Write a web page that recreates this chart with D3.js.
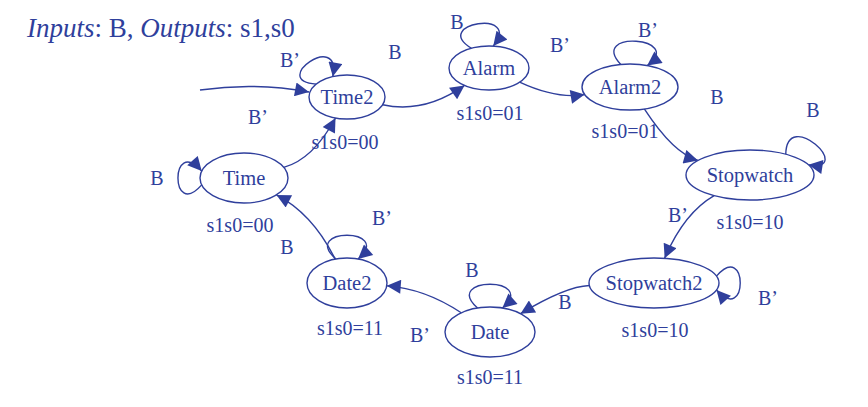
<!DOCTYPE html>
<html><head><meta charset="utf-8">
<script src="https://cdn.jsdelivr.net/npm/d3@7"></script>
<style>body{margin:0;background:#fff}</style>
</head><body>
<svg id="c" width="868" height="407"></svg>
<script>
// states, their outputs, and where they sit
var states = ['Time2', 'Alarm', 'Alarm2', 'Stopwatch', 'Stopwatch2', 'Date', 'Date2', 'Time'];
var outputs = ['00', '01', '01', '10', '10', '11', '11', '00'];
var layout = [
    {x: 347, y: 97, rx: 38, ry: 22},
    {x: 489, y: 68, rx: 40, ry: 22},
    {x: 630, y: 87, rx: 48, ry: 23},
    {x: 750, y: 175, rx: 64, ry: 25},
    {x: 654, y: 283, rx: 65, ry: 25},
    {x: 490, y: 332, rx: 45, ry: 25},
    {x: 347, y: 283, rx: 40, ry: 25},
    {x: 244, y: 178, rx: 44, ry: 25}
];
var outPos = [[345, 142], [490, 113], [625, 131], [750, 222], [655, 330], [490, 377], [350, 328], [240, 225]];

// transitions: from, to, input
var edgeFrom = [0, 1, 2, 3, 4, 5, 6, 7];
var edgeTo = [1, 2, 3, 4, 5, 6, 7, 0];
var edgeInput = ['B', 'B\u2019', 'B', 'B\u2019', 'B', 'B\u2019', 'B', 'B\u2019'];
var edgeBend = [-32, -22, -28, -24, -22, -20, -24, -28];
var edgeLabel = [[395, 52], [560, 45], [717, 97], [678, 215], [565, 302], [420, 335], [287, 247], [258, 117]];

// self loops: state, input, angle (deg), label position
var loopState = [0, 1, 2, 3, 4, 5, 6, 7];
var loopInput = ['B\u2019', 'B', 'B\u2019', 'B', 'B\u2019', 'B', 'B\u2019', 'B'];
var loopAngle = [-128, -100, -85, -40, 0, -90, -90, 180];
var loopLabel = [[290, 60], [457, 22], [648, 30], [813, 110], [768, 298], [472, 270], [382, 218], [157, 178]];

var blue = '#2f3f9c';
var svg = d3.select('#c');

svg.append('defs').append('marker')
    .attr('id', 'ah')
    .attr('viewBox', '0 0 10 10')
    .attr('refX', 10).attr('refY', 5)
    .attr('markerWidth', 16).attr('markerHeight', 14)
    .attr('markerUnits', 'userSpaceOnUse')
    .attr('orient', 'auto')
  .append('path')
    .attr('d', 'M0,0 L10,5 L0,10 Z')
    .attr('fill', blue);

function boundary (s, tx, ty) {
    var a = Math.atan2((ty - s.y) / s.ry, (tx - s.x) / s.rx);
    return [s.x + s.rx * Math.cos(a), s.y + s.ry * Math.sin(a)];
}

var edges = edgeFrom.map(function (f, i) {
    var a = layout[f], b = layout[edgeTo[i]];
    var mx = (a.x + b.x) / 2, my = (a.y + b.y) / 2;
    var dx = b.x - a.x, dy = b.y - a.y, len = Math.sqrt(dx * dx + dy * dy);
    var cx = mx + edgeBend[i] * dy / len, cy = my - edgeBend[i] * dx / len;
    var p0 = boundary(a, cx, cy), p1 = boundary(b, cx, cy);
    var p = d3.path();
    p.moveTo(p0[0], p0[1]);
    p.quadraticCurveTo(cx, cy, p1[0], p1[1]);
    return p.toString();
});

svg.selectAll('.edge')
    .data(edges)
  .enter().append('path')
    .attr('class', 'edge')
    .attr('d', function (d) { return d; })
    .attr('fill', 'none')
    .attr('stroke', blue)
    .attr('stroke-width', 1.4)
    .attr('marker-end', 'url(#ah)');

var loops = loopState.map(function (s, i) {
    var st = layout[s], a = loopAngle[i] * Math.PI / 180, w = 0.28;
    function pt (ang) {
        return [st.x + st.rx * Math.cos(ang), st.y + st.ry * Math.sin(ang)];
    }
    var p0 = pt(a - w), p1 = pt(a + w);
    var c0 = [p0[0] + 48 * Math.cos(a - 0.85), p0[1] + 48 * Math.sin(a - 0.85)];
    var c1 = [p1[0] + 48 * Math.cos(a + 0.85), p1[1] + 48 * Math.sin(a + 0.85)];
    var p = d3.path();
    p.moveTo(p0[0], p0[1]);
    p.bezierCurveTo(c0[0], c0[1], c1[0], c1[1], p1[0], p1[1]);
    return p.toString();
});

svg.selectAll('.loop')
    .data(loops)
  .enter().append('path')
    .attr('class', 'loop')
    .attr('d', function (d) { return d; })
    .attr('fill', 'none')
    .attr('stroke', blue)
    .attr('stroke-width', 1.4)
    .attr('marker-end', 'url(#ah)');

// start arrow
var t2 = layout[0];
svg.append('path')
    .attr('d', 'M200,90 Q255,82 ' + (t2.x - t2.rx) + ',' + (t2.y - 5))
    .attr('fill', 'none').attr('stroke', blue).attr('stroke-width', 1.4)
    .attr('marker-end', 'url(#ah)');

var nodes = svg.selectAll('.state')
    .data(states)
  .enter().append('g')
    .attr('class', 'state');

nodes.append('ellipse')
    .attr('cx', function (d, i) { return layout[i].x; })
    .attr('cy', function (d, i) { return layout[i].y; })
    .attr('rx', function (d, i) { return layout[i].rx; })
    .attr('ry', function (d, i) { return layout[i].ry; })
    .attr('fill', '#fff')
    .attr('stroke', blue)
    .attr('stroke-width', 1.4);

var font = 'Liberation Serif, Times New Roman, serif';

nodes.append('text')
    .attr('x', function (d, i) { return layout[i].x; })
    .attr('y', function (d, i) { return layout[i].y + 7; })
    .attr('text-anchor', 'middle')
    .attr('font-family', font).attr('font-size', 20.5).attr('fill', blue)
    .text(function (d) { return d; });

nodes.append('text')
    .attr('x', function (d, i) { return outPos[i][0]; })
    .attr('y', function (d, i) { return outPos[i][1] + 7; })
    .attr('text-anchor', 'middle')
    .attr('font-family', font).attr('font-size', 20).attr('fill', blue)
    .text(function (d, i) { return 's1s0=' + outputs[i]; });

var labels = edgeInput.map(function (d, i) { return {t: d, p: edgeLabel[i]}; })
    .concat(loopInput.map(function (d, i) { return {t: d, p: loopLabel[i]}; }));

svg.selectAll('.lab')
    .data(labels)
  .enter().append('text')
    .attr('class', 'lab')
    .attr('x', function (d) { return d.p[0]; })
    .attr('y', function (d) { return d.p[1] + 7; })
    .attr('text-anchor', 'middle')
    .attr('font-family', font).attr('font-size', 20).attr('fill', blue)
    .text(function (d) { return d.t; });

var title = svg.append('text')
    .attr('x', 27).attr('y', 37)
    .attr('font-family', font).attr('font-size', 27).attr('fill', blue);
title.append('tspan').attr('font-style', 'italic').text('Inputs');
title.append('tspan').text(': B, ');
title.append('tspan').attr('font-style', 'italic').text('Outputs');
title.append('tspan').text(': s1,s0');
</script>
</body></html>
